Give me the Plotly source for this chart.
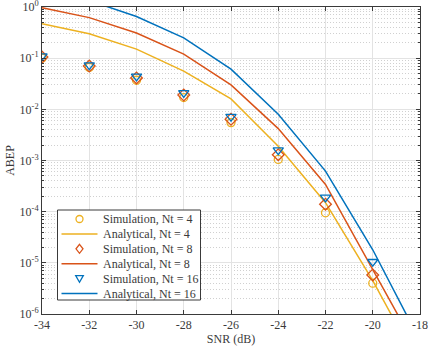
import plotly.graph_objects as go

# SNR grid (dB)
snr_sim = [-34, -32, -30, -28, -26, -24, -22, -20]
snr_ana = [-34, -32, -30, -28, -26, -24, -22, -20, -18]

# simulated ABEP
sim_nt4 = [0.100, 0.066, 0.037, 0.017, 0.0055, 0.00105, 9.5e-5, 4.0e-6]
sim_nt8 = [0.105, 0.070, 0.041, 0.019, 0.0064, 0.0013, 1.4e-4, 5.8e-6]
sim_nt16 = [0.110, 0.073, 0.044, 0.021, 0.0072, 0.0016, 1.9e-4, 1.05e-5]

# analytical ABEP
ana_nt4 = [0.47, 0.30, 0.15, 0.056, 0.016, 0.0019, 1.5e-4, 4.5e-6, 9e-8]
ana_nt8 = [0.97, 0.62, 0.31, 0.12, 0.030, 0.0042, 3.4e-4, 7.6e-6, 1.6e-7]
ana_nt16 = [2.0, 1.34, 0.65, 0.25, 0.061, 0.0080, 6.2e-4, 1.8e-5, 3e-7]

x_ticks = [-34, -32, -30, -28, -26, -24, -22, -20, -18]
y_exps = [-6, -5, -4, -3, -2, -1, 0]

YELLOW = '#EDB120'
RED = '#D95319'
BLUE = '#0072BD'
AXC = '#3a3a3a'
FONT = 'Times New Roman'

W, H = 428, 352
ML, MR, MT, MB = 42, 8, 7, 38
PW, PH = W - ML - MR, H - MT - MB


def px(x):  # pixel -> paper x
    return (x - ML) / PW


def py(y):  # pixel -> paper y
    return (H - MB - y) / PH


fig = go.Figure()

series = [
    ('4', sim_nt4, ana_nt4, YELLOW, 'circle-open', 8),
    ('8', sim_nt8, ana_nt8, RED, 'diamond-open', 9),
    ('16', sim_nt16, ana_nt16, BLUE, 'triangle-down-open', 9),
]
for nt, sim, ana, col, sym, msize in series:
    fig.add_trace(go.Scatter(
        x=snr_sim, y=sim, mode='markers', name=f'Simulation, Nt = {nt}',
        marker=dict(symbol=sym, size=msize, color=col, line=dict(width=1.3, color=col)),
        showlegend=False,
    ))
    fig.add_trace(go.Scatter(
        x=snr_ana, y=ana, mode='lines', name=f'Analytical, Nt = {nt}',
        line=dict(color=col, width=1.5), showlegend=False,
    ))

minor_vals = [m * 10 ** e for e in y_exps[:-1] for m in range(2, 10)]

fig.update_xaxes(
    range=[-34, -18], tickmode='array', tickvals=x_ticks,
    ticktext=[str(v) for v in x_ticks],
    showline=True, linecolor=AXC, linewidth=1, mirror='allticks',
    ticks='inside', ticklen=4, tickcolor=AXC,
    showgrid=True, gridcolor='#e3e3e3', gridwidth=1, zeroline=False,
    title=dict(text='SNR (dB)', standoff=2, font=dict(size=12, color=AXC, family=FONT)),
    tickfont=dict(size=12, color=AXC, family=FONT), automargin=False,
    ticklabeloverflow='allow',
)
fig.update_yaxes(
    type='log', range=[-6, 0], tickmode='array',
    tickvals=[10 ** e for e in y_exps],
    ticktext=[f'10<sup>{e}</sup>' for e in y_exps],
    showline=True, linecolor=AXC, linewidth=1, mirror='allticks',
    ticks='inside', ticklen=4, tickcolor=AXC,
    showgrid=True, gridcolor='#e3e3e3', gridwidth=1, zeroline=False,
    minor=dict(tickmode='array', tickvals=minor_vals, ticks='inside', ticklen=2,
               tickcolor=AXC, showgrid=True, gridcolor='#d0d0d0', griddash='1px,2px', gridwidth=1),
    title=dict(text='ABEP', standoff=2, font=dict(size=12, color=AXC, family=FONT)),
    tickfont=dict(size=12, color=AXC, family=FONT), automargin=False,
    ticklabeloverflow='allow',
)

# MATLAB-style compact legend box (lower left)
shapes = [dict(type='rect', xref='paper', yref='paper', layer='above',
               x0=px(57.5), x1=px(200.5), y0=py(300), y1=py(210),
               fillcolor='white', line=dict(color=AXC, width=1))]
annotations = []
sym_paths = {
    'circle-open': None,
    'diamond-open': 'M 0,4.5 L 3.5,0 L 0,-4.5 L -3.5,0 Z',
    'triangle-down-open': 'M -3.8,3 L 3.8,3 L 0,-3.6 Z',
}
row = 0
for nt, sim, ana, col, sym, msize in series:
    for kind in ('Simulation', 'Analytical'):
        yc = py(219 + row * 14.9)
        if kind == 'Simulation':
            base = dict(xref='paper', yref='paper', layer='above',
                        xsizemode='pixel', ysizemode='pixel',
                        xanchor=px(79.5), yanchor=yc, line=dict(color=col, width=1.3))
            if sym_paths[sym] is None:
                shapes.append(dict(type='circle', x0=-3.5, x1=3.5, y0=-3.5, y1=3.5, **base))
            else:
                shapes.append(dict(type='path', path=sym_paths[sym], **base))
        else:
            shapes.append(dict(type='line', xref='paper', yref='paper', layer='above',
                               x0=px(61.5), x1=px(97.5), y0=yc, y1=yc,
                               line=dict(color=col, width=1.5)))
        annotations.append(dict(
            text=f'{kind}, Nt = {nt}', xref='paper', yref='paper',
            x=px(101), y=yc, xanchor='left', yanchor='middle', showarrow=False,
            font=dict(size=12, color=AXC, family=FONT),
        ))
        row += 1

fig.update_layout(
    width=W, height=H,
    margin=dict(l=ML, r=MR, t=MT, b=MB),
    plot_bgcolor='white', paper_bgcolor='white',
    font=dict(family=FONT, size=12, color=AXC),
    showlegend=False,
    shapes=shapes, annotations=annotations,
)

fig.write_html("out.html", config={'displayModeBar': False},
               post_script="document.body.style.margin='0px';")
